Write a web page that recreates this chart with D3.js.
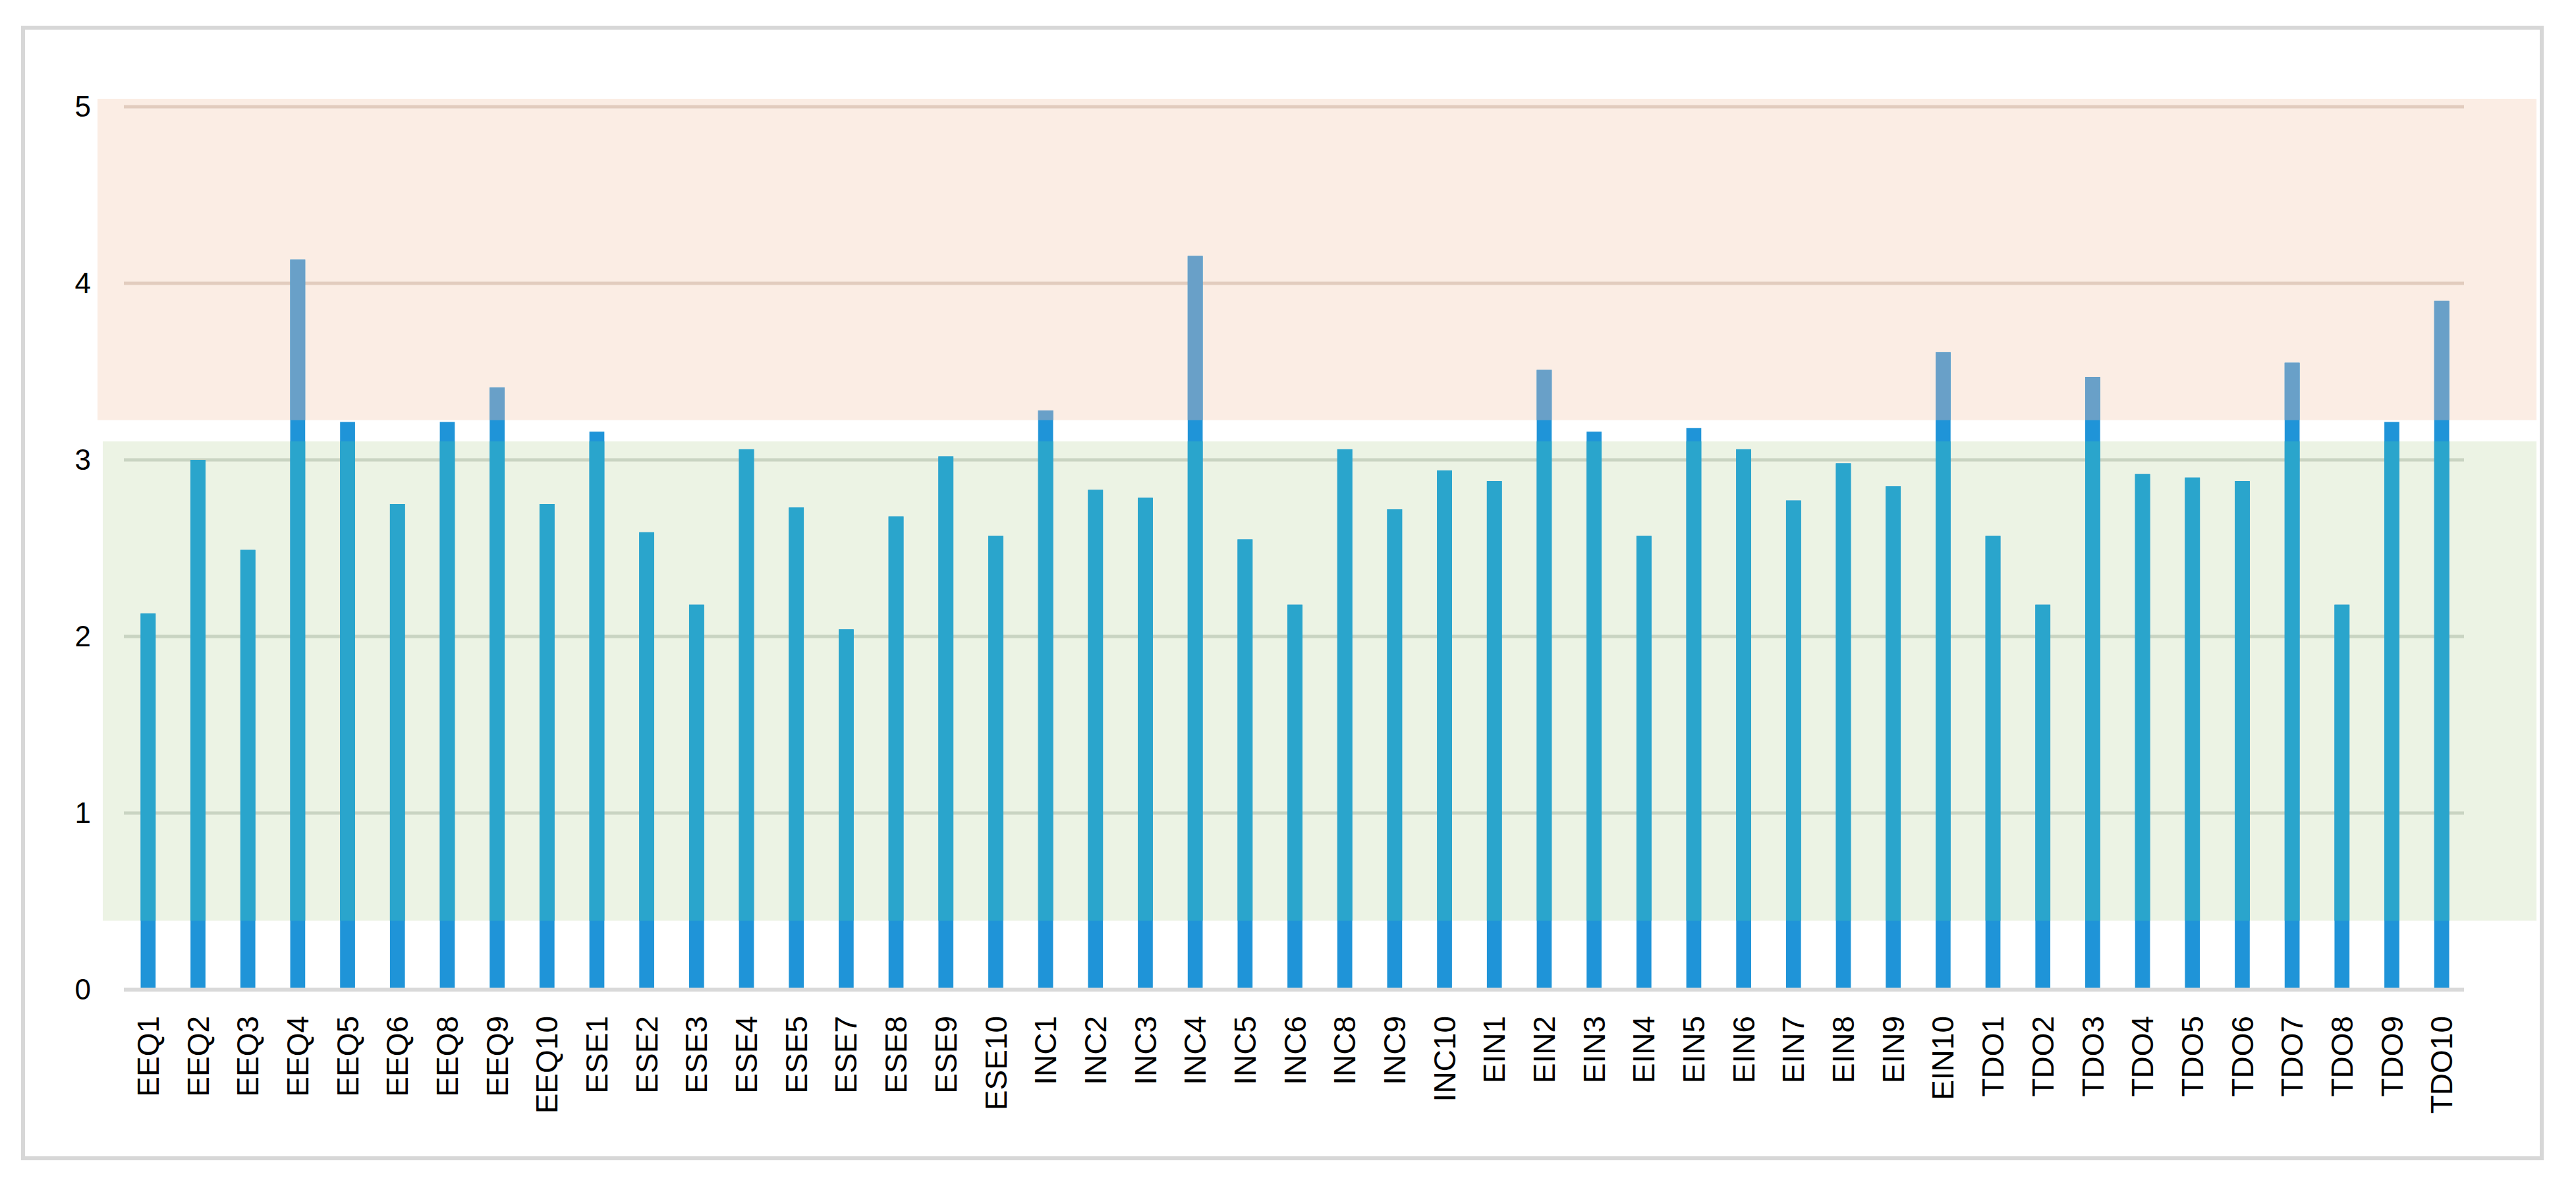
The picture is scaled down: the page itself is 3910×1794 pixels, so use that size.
<!DOCTYPE html>
<html>
<head>
<meta charset="utf-8">
<script src="https://cdnjs.cloudflare.com/ajax/libs/d3/7.8.5/d3.min.js"></script>
<style>
  html, body { margin: 0; padding: 0; background: #fff; }
  svg { display: block; }
</style>
</head>
<body>
<div id="chart"></div>
<script>
'use strict';

// categories on the x axis
var categories = [
  'EEQ1', 'EEQ2', 'EEQ3', 'EEQ4', 'EEQ5', 'EEQ6', 'EEQ8', 'EEQ9', 'EEQ10',
  'ESE1', 'ESE2', 'ESE3', 'ESE4', 'ESE5', 'ESE7', 'ESE8', 'ESE9', 'ESE10',
  'INC1', 'INC2', 'INC3', 'INC4', 'INC5', 'INC6', 'INC8', 'INC9', 'INC10',
  'EIN1', 'EIN2', 'EIN3', 'EIN4', 'EIN5', 'EIN6', 'EIN7', 'EIN8', 'EIN9', 'EIN10',
  'TDO1', 'TDO2', 'TDO3', 'TDO4', 'TDO5', 'TDO6', 'TDO7', 'TDO8', 'TDO9', 'TDO10'
];

// mean score per item
var values = [
  2.13, 3.00, 2.49, 4.135, 3.215, 2.75, 3.215, 3.41, 2.75,
  3.16, 2.59, 2.18, 3.06, 2.73, 2.04, 2.68, 3.02, 2.57,
  3.28, 2.83, 2.785, 4.155, 2.55, 2.18, 3.06, 2.72, 2.94,
  2.88, 3.51, 3.16, 2.57, 3.18, 3.06, 2.77, 2.98, 2.85, 3.61,
  2.57, 2.18, 3.47, 2.92, 2.90, 2.88, 3.55, 2.18, 3.215, 3.90
];

var yTicks = [0, 1, 2, 3, 4, 5];

// shaded reference ranges [low, high]
var highBand = [3.225, 5.045];
var midBand = [0.39, 3.105];

var width = 3910;
var height = 1794;

var svg = d3.select('#chart').append('svg')
  .attr('width', width)
  .attr('height', height)
  .style('font-family', '"Liberation Sans", Arial, sans-serif');

var x = d3.scaleBand()
  .domain(categories)
  .range([187, 3744])
  .paddingInner(0.7)
  .paddingOuter(0.35);

var y = d3.scaleLinear()
  .domain([0, 5])
  .range([1502, 162]);

// outer frame
svg.append('rect')
  .attr('x', 35)
  .attr('y', 42)
  .attr('width', 3823)
  .attr('height', 1716)
  .attr('fill', '#fff')
  .attr('stroke', '#d7d7d7')
  .attr('stroke-width', 6);

var bands = [
  {id: 'high', range: highBand, x0: 148, fill: '#fbede4', grid: '#e2ccbe', bar: '#69a0c8'},
  {id: 'mid', range: midBand, x0: 156, fill: '#ecf3e4', grid: '#c9d4c2', bar: '#2aa5cc'}
];

var defs = svg.append('defs');
bands.forEach(function (b) {
  defs.append('clipPath')
    .attr('id', 'clip-' + b.id)
    .append('rect')
      .attr('x', b.x0)
      .attr('y', y(b.range[1]))
      .attr('width', 3850 - b.x0)
      .attr('height', y(b.range[0]) - y(b.range[1]));
});

svg.append('g').selectAll('rect')
  .data(bands)
  .enter()
  .append('rect')
    .attr('x', function (b) { return b.x0; })
    .attr('y', function (b) { return y(b.range[1]); })
    .attr('width', function (b) { return 3850 - b.x0; })
    .attr('height', function (b) { return y(b.range[0]) - y(b.range[1]); })
    .attr('fill', function (b) { return b.fill; });

function gridColor(v) {
  for (var i = 0; i < bands.length; i++) {
    if (v >= bands[i].range[0] && v <= bands[i].range[1]) return bands[i].grid;
  }
  return '#d9d9d9';
}

// gridlines
svg.append('g').selectAll('line')
  .data(yTicks)
  .enter()
  .append('line')
    .attr('x1', 188)
    .attr('x2', 3740)
    .attr('y1', function (d) { return y(d); })
    .attr('y2', function (d) { return y(d); })
    .attr('stroke', gridColor)
    .attr('stroke-width', function (d) { return d === 0 ? 6 : 5; });

// bars: base colour, then tinted where a band lies over them
function drawBars(fill, clip) {
  var g = svg.append('g');
  if (clip) g.attr('clip-path', 'url(#clip-' + clip + ')');
  g.selectAll('rect')
    .data(values)
    .enter()
    .append('rect')
      .attr('x', function (d, i) { return x(categories[i]); })
      .attr('width', x.bandwidth())
      .attr('y', function (d) { return y(d); })
      .attr('height', function (d) { return y(0) - y(d) - 3; })
      .attr('fill', fill);
}
drawBars('#1f94d8', null);
bands.forEach(function (b) { drawBars(b.bar, b.id); });

// y axis labels
var yAxis = svg.append('g')
  .attr('transform', 'translate(138,0)')
  .call(d3.axisLeft(y).tickValues(yTicks).tickSize(0).tickPadding(0).tickFormat(d3.format('d')));
yAxis.select('.domain').remove();
yAxis.selectAll('text')
  .attr('font-size', 44)
  .attr('font-family', '"Liberation Sans", Arial, sans-serif')
  .attr('fill', '#000');

// x axis labels, rotated
var xAxis = svg.append('g')
  .attr('transform', 'translate(0,' + y(0) + ')')
  .call(d3.axisBottom(x).tickSize(0).tickPadding(0));
xAxis.select('.domain').remove();
xAxis.selectAll('text')
  .attr('transform', 'rotate(-90)')
  .attr('text-anchor', 'end')
  .attr('x', -40)
  .attr('y', 0)
  .attr('dy', '0.35em')
  .attr('font-size', 46)
  .attr('font-family', '"Liberation Sans Narrow", "Arial Narrow", "Liberation Sans", sans-serif')
  .attr('fill', '#000');
</script>
</body>
</html>
